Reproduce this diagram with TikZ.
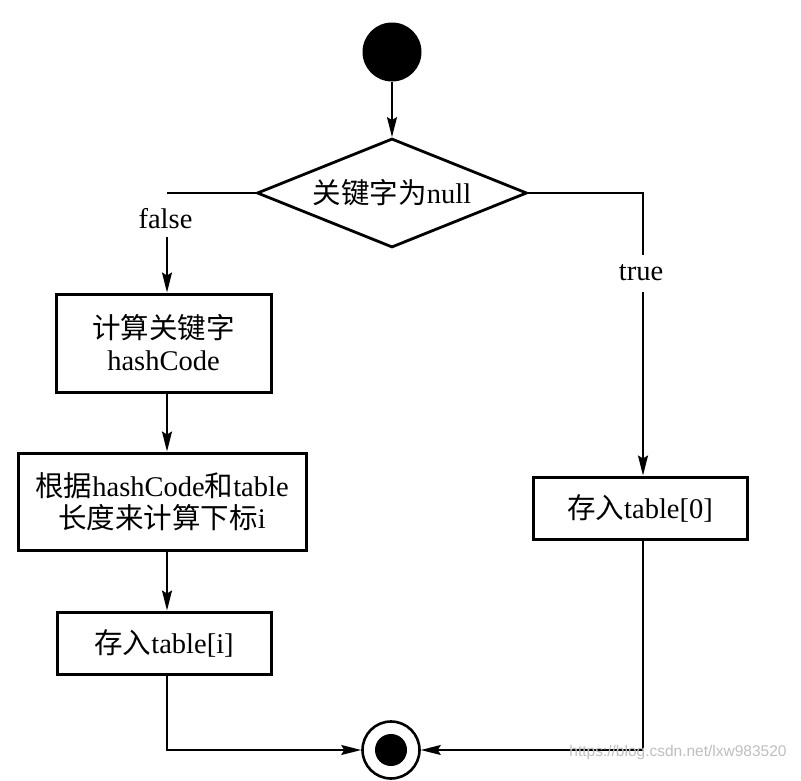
\documentclass[tikz,border=0pt]{standalone}
\usepackage{fontspec}
\setmainfont{Liberation Serif}
\newfontfamily\cjk{Noto Sans CJK SC}
\newfontfamily\wmfont{Liberation Sans}
\usetikzlibrary{shapes.geometric,arrows.meta}
\begin{document}
\begin{tikzpicture}[x=1pt,y=-1pt,
  every node/.style={font=\fontsize{28.5}{32}\selectfont},
  procbox/.style={draw,line width=3pt,rectangle,inner sep=0pt,align=center},
  decision/.style={draw,line width=2.8pt,diamond,aspect=2.48,inner sep=0pt,minimum width=270pt,minimum height=109pt},
  conn/.style={line width=1.6pt},
  arr/.style={conn,-{Stealth[length=20pt,width=10pt,inset=3pt]}},
  lbl/.style={inner sep=0pt}
]
\useasboundingbox (0,0) rectangle (801,781);
\fill[white] (0,0) rectangle (801,781);

\node[circle,fill=black,minimum size=59pt,inner sep=0pt] (start) at (392,52) {};
\node[decision] (dia) at (392,193) {{\cjk 关键字为}null};

\node[procbox,minimum width=215pt,minimum height=98pt] (b1) at (163.5,343) {{\cjk 计算关键字}\\hashCode};
\node[procbox,minimum width=288pt,minimum height=97pt] (b2) at (162,501.5) {{\cjk 根据}hashCode{\cjk 和}table\\{\cjk 长度来计算下标}i};
\node[procbox,minimum width=214pt,minimum height=62pt] (b3) at (164,643) {{\cjk 存入}table[i]};
\node[procbox,minimum width=214pt,minimum height=62pt] (br) at (640,508) {{\cjk 存入}table[0]};

\node[circle,draw,line width=2.6pt,fill=white,minimum size=57pt,inner sep=0pt] (endc) at (391,750) {};
\node[circle,fill=black,minimum size=32pt,inner sep=0pt] (endin) at (391,750) {};

\coordinate (fl) at (167,193);
\coordinate (fl2) at (167,237);
\coordinate (tr) at (643,193);
\coordinate (tr1) at (643,255);
\coordinate (tr2) at (643,292);

\node[lbl] (lfalse) at (165.5,219) {false};
\node[lbl] (ltrue) at (641,273) {true};

\draw[arr] (start) -- (dia.north);
\draw[conn] (dia.west) -- (fl);
\draw[arr] (fl2) -- (fl2 |- b1.north);
\draw[arr] (b1.south -| fl) -- (b2.north -| fl);
\draw[arr] (b2.south -| fl) -- (b3.north -| fl);
\draw[arr] (b3.south -| fl) |- (endc.west);

\draw[conn] (dia.east) -- (tr) -- (tr1);
\draw[arr] (tr2) -- (tr2 |- br.north);
\draw[arr] (br.south -| tr) |- (endc.east);

\node[lbl,text=black!25,font=\wmfont\fontsize{15.5}{18}\selectfont] (wm) at (678,752) {https://blog.csdn.net/lxw983520};
\end{tikzpicture}
\end{document}
